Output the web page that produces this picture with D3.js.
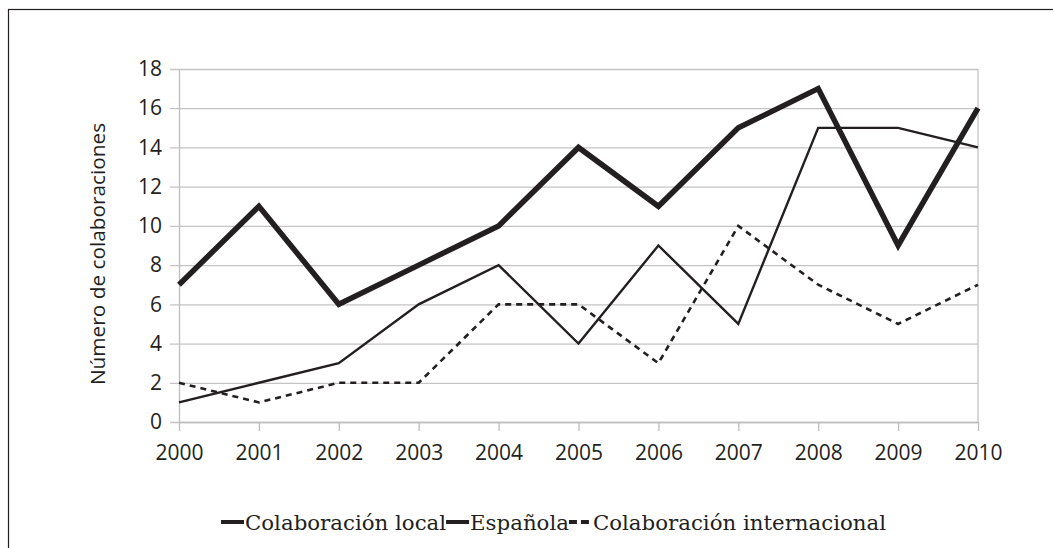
<!DOCTYPE html>
<html lang="es">
<head>
<meta charset="UTF-8">
<title>Colaboraciones 2000-2010</title>
<script src="https://d3js.org/d3.v7.min.js"></script>
<style>
  body { margin: 0; background: #fff; }
  .tick text { font-family: "Open Sans", sans-serif; font-size: 21px; fill: #231f20; }
  .axis-title { font-family: "Open Sans", sans-serif; font-size: 20.8px; fill: #231f20; }
  .legend text { font-family: "DejaVu Serif", serif; font-size: 21.3px; fill: #231f20; }
</style>
</head>
<body>
<div id="chart"></div>
<script>
// data
const years = ["2000","2001","2002","2003","2004","2005","2006","2007","2008","2009","2010"];
const local = [7, 11, 6, 8, 10, 14, 11, 15, 17, 9, 16];
const espanola = [1, 2, 3, 6, 8, 4, 9, 5, 15, 15, 14];
const internacional = [2, 1, 2, 2, 6, 6, 3, 10, 7, 5, 7];
const yTicks = [0, 2, 4, 6, 8, 10, 12, 14, 16, 18];

const W = 1053, H = 548;
const margin = {left: 179, right: 75, top: 69, bottom: 126};
const width = W - margin.left - margin.right,
      height = H - margin.top - margin.bottom;

const svg = d3.select("#chart").append("svg")
    .attr("width", W).attr("height", H);

// outer frame
svg.append("rect")
    .attr("x", 8.5).attr("y", 9.5)
    .attr("width", 1060).attr("height", 560)
    .attr("fill", "none").attr("stroke", "#231f20").attr("stroke-width", 1.2);

const g = svg.append("g").attr("transform", `translate(${margin.left},${margin.top})`);

const x = d3.scalePoint().domain(years).range([0, width]);
const y = d3.scaleLinear().domain([0, 18]).range([height, 0]);

// gridlines + left ticks
const yAxis = g.append("g")
    .call(d3.axisLeft(y).tickValues(yTicks).tickSize(-width).tickPadding(17).tickSizeOuter(0));
yAxis.select(".domain").attr("stroke", "#bdbdbd").attr("stroke-width", 1.3);
yAxis.selectAll(".tick line").attr("stroke", "#c4c4c4").attr("stroke-width", 1.3).attr("x1", -9);

// right border of plot
g.append("line")
    .attr("x1", width).attr("x2", width).attr("y1", 0).attr("y2", height)
    .attr("stroke", "#c4c4c4").attr("stroke-width", 1.3);

// x axis
const xAxis = g.append("g")
    .attr("transform", `translate(0,${height})`)
    .call(d3.axisBottom(x).tickSize(9).tickPadding(14).tickSizeOuter(0));
xAxis.select(".domain").attr("stroke", "#bdbdbd").attr("stroke-width", 1.3);
xAxis.selectAll(".tick line").attr("stroke", "#bdbdbd").attr("stroke-width", 1.3);

// y title
svg.append("text")
    .attr("class", "axis-title")
    .attr("transform", "translate(105,254) rotate(-90)")
    .attr("text-anchor", "middle")
    .text("Número de colaboraciones");

const line = d3.line().x((d, i) => x(years[i])).y(d => y(d));

const series = [
  {name: "Colaboración local", values: local, width: 5.5, dash: null},
  {name: "Española", values: espanola, width: 2.4, dash: null},
  {name: "Colaboración internacional", values: internacional, width: 2.6, dash: "6,5"}
];

series.forEach(s => {
  g.append("path")
      .datum(s.values)
      .attr("d", line)
      .attr("fill", "none")
      .attr("stroke", "#231f20")
      .attr("stroke-width", s.width)
      .attr("stroke-linejoin", "miter")
      .attr("stroke-dasharray", s.dash);
});

// legend
const legend = svg.append("g").attr("class", "legend").attr("transform", "translate(221,522)");
let lx = 0;
series.forEach(s => {
  legend.append("line")
      .attr("x1", lx).attr("x2", lx + 23).attr("y1", 0).attr("y2", 0)
      .attr("stroke", "#231f20")
      .attr("stroke-width", 4)
      .attr("stroke-dasharray", s.dash ? "8,4" : null);
  const t = legend.append("text")
      .attr("x", lx + 24).attr("y", 8)
      .text(s.name);
  lx += 24 + t.node().getComputedTextLength();
});
</script>
</body>
</html>
